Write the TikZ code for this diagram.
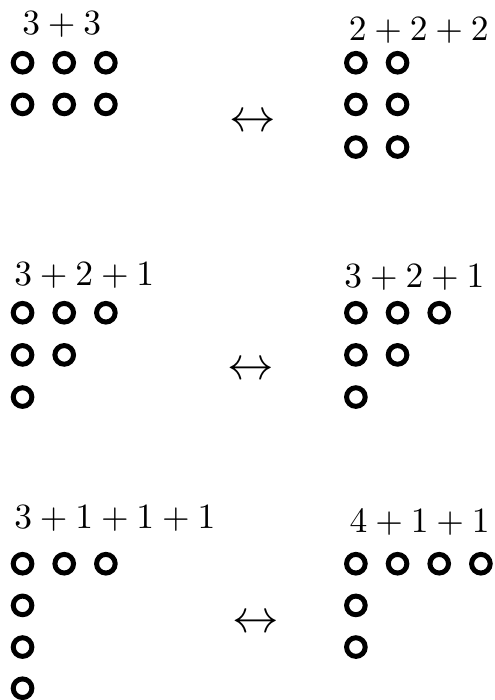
\documentclass[tikz,border=0pt]{standalone}
\usepackage{amsmath}
\usepackage{amssymb}
\usepackage{tikz}

\begin{document}
\begin{tikzpicture}[dot/.style={circle, draw, line width=1.45pt, minimum size=0.19cm, inner sep=0pt},
                    lbl/.style={anchor=base west, inner sep=0pt, scale=1.03}]
            \useasboundingbox (0,0) rectangle (5.04,-7.14);
            % 3+3 <-> 2+2+2
            \node[lbl] (la) at (0.22,-0.357) {$3+3$};
            \node[dot] (a11) at (0.23,-0.64)  {};
            \node[dot] (a12) at (0.655,-0.64) {};
            \node[dot] (a13) at (1.08,-0.64)  {};
            \node[dot] (a21) at (0.23,-1.065)  {};
            \node[dot] (a22) at (0.655,-1.065) {};
            \node[dot] (a23) at (1.08,-1.065)  {};
            \node[scale=1.35] (ar1) at (2.58,-1.255) {$\leftrightarrow$};
            \node[lbl] (lb) at (3.55,-0.41) {$2+2+2$};
            \node[dot] (b11) at (3.63,-0.64)  {};
            \node[dot] (b12) at (4.055,-0.64) {};
            \node[dot] (b21) at (3.63,-1.065)  {};
            \node[dot] (b22) at (4.055,-1.065) {};
            \node[dot] (b31) at (3.63,-1.5)  {};
            \node[dot] (b32) at (4.055,-1.5) {};
            % 3+2+1 <-> 3+2+1
            \node[lbl] (lc) at (0.139,-2.91) {$3+2+1$};
            \node[dot] (c11) at (0.23,-3.19)  {};
            \node[dot] (c12) at (0.655,-3.19) {};
            \node[dot] (c13) at (1.08,-3.19)  {};
            \node[dot] (c21) at (0.23,-3.62)  {};
            \node[dot] (c22) at (0.655,-3.62) {};
            \node[dot] (c31) at (0.23,-4.05)  {};
            \node[scale=1.35] (ar2) at (2.56,-3.78) {$\leftrightarrow$};
            \node[lbl] (ld) at (3.506,-2.93) {$3+2+1$};
            \node[dot] (d11) at (3.63,-3.19)  {};
            \node[dot] (d12) at (4.055,-3.19) {};
            \node[dot] (d13) at (4.48,-3.19)  {};
            \node[dot] (d21) at (3.63,-3.62)  {};
            \node[dot] (d22) at (4.055,-3.62) {};
            \node[dot] (d31) at (3.63,-4.05)  {};
            % 3+1+1+1 <-> 4+1+1
            \node[lbl] (le) at (0.139,-5.39) {$3+1+1+1$};
            \node[dot] (e11) at (0.23,-5.75)  {};
            \node[dot] (e12) at (0.655,-5.75) {};
            \node[dot] (e13) at (1.08,-5.75)  {};
            \node[dot] (e21) at (0.23,-6.175) {};
            \node[dot] (e31) at (0.23,-6.6)   {};
            \node[dot] (e41) at (0.23,-7.02)  {};
            \node[scale=1.35] (ar3) at (2.61,-6.36) {$\leftrightarrow$};
            \node[lbl] (lf) at (3.56,-5.43) {$4+1+1$};
            \node[dot] (f11) at (3.63,-5.75)  {};
            \node[dot] (f12) at (4.055,-5.75) {};
            \node[dot] (f13) at (4.48,-5.75)  {};
            \node[dot] (f14) at (4.905,-5.75) {};
            \node[dot] (f21) at (3.63,-6.175) {};
            \node[dot] (f31) at (3.63,-6.6)   {};
        \end{tikzpicture}
\end{document}
